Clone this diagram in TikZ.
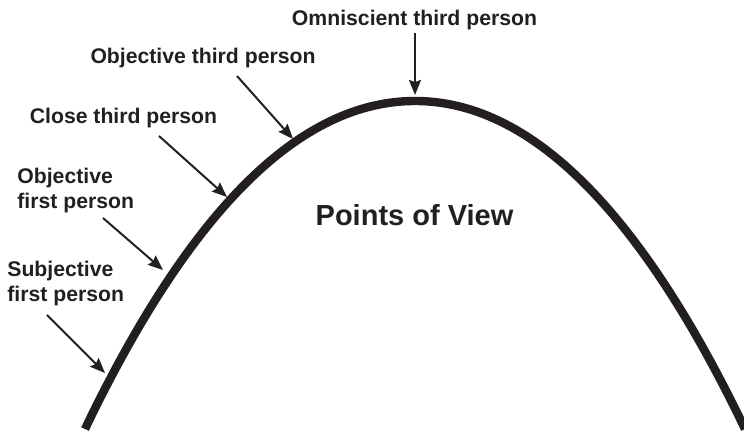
\documentclass[tikz,border=0pt]{standalone}
\usepackage{fontspec}
\setmainfont{Liberation Sans}
\usetikzlibrary{arrows.meta, positioning}
\definecolor{ink}{HTML}{231F20}

\begin{document}
\begin{tikzpicture}[x=0.5pt, y=-0.5pt,
  pov/.style={font=\fontsize{10.6}{12.5}\selectfont\bfseries, text=ink, inner sep=0pt, align=left},
  title/.style={font=\fontsize{14.5}{17}\selectfont\bfseries, text=ink, inner sep=0pt},
  curve/.style={line width=4.2pt, draw=ink},
  arrow/.style={-{Stealth[length=7.5pt, width=6pt, inset=1pt]}, line width=1pt, color=ink}
]
\useasboundingbox (0,0) rectangle (744,431);
% the arc of viewpoints
\draw[curve] (85,429) .. controls (192,206) and (302,101) .. (415,101)
  .. controls (528,101) and (638,206) .. (745,429);
\node[title, anchor=base] (pov) at (414.5,226) {Points of View};
% labels
\node[pov, anchor=base] (omni) at (414.5,26) {Omniscient third person};
\node[pov, anchor=base] (objthird) at (203,64) {Objective third person};
\node[pov, anchor=base] (close) at (123.5,124) {Close third person};
\node[pov, anchor=base west] (objfirst) at (17,209) {Objective\\first person};
\node[pov, anchor=base west] (subj) at (7,302) {Subjective\\first person};
% arrow ends
\coordinate (omni-s) at (415,33);
\coordinate (omni-t) at (415,95);
\coordinate (objthird-s) at (237,76);
\coordinate (objthird-t) at (293,139);
\coordinate (close-s) at (159,136);
\coordinate (close-t) at (227,197);
\coordinate (objfirst-s) at (103,218);
\coordinate (objfirst-t) at (163,270);
\coordinate (subj-s) at (47,315);
\coordinate (subj-t) at (105,373);
\draw[arrow] (omni-s) -- (omni-t);
\draw[arrow] (objthird-s) -- (objthird-t);
\draw[arrow] (close-s) -- (close-t);
\draw[arrow] (objfirst-s) -- (objfirst-t);
\draw[arrow] (subj-s) -- (subj-t);
\end{tikzpicture}
\end{document}
